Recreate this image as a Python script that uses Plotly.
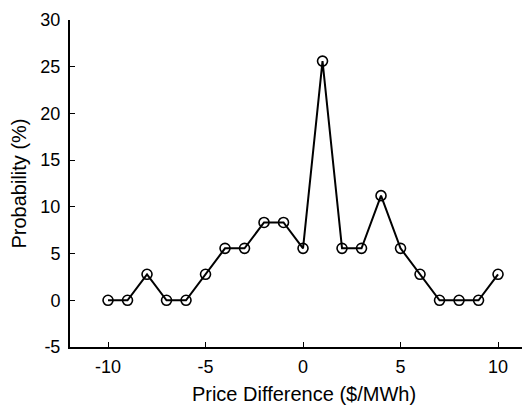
import plotly.graph_objects as go

price_diff = [-10, -9, -8, -7, -6, -5, -4, -3, -2, -1, 0, 1, 2, 3, 4, 5, 6, 7, 8, 9, 10]
probability = [0, 0, 2.78, 0, 0, 2.78, 5.56, 5.56, 8.33, 8.33, 5.56, 25.6, 5.56, 5.56, 11.2, 5.56, 2.78, 0, 0, 0, 2.78]
x_ticks = [-10, -5, 0, 5, 10]
x_tick_labels = ["-10", "-5", "0", "5", "10"]
y_ticks = [-5, 0, 5, 10, 15, 20, 25, 30]
y_tick_labels = ["-5", "0", "5", "10", "15", "20", "25", "30"]

fig = go.Figure()
fig.add_trace(go.Scatter(
    x=price_diff, y=probability, mode="lines+markers",
    line=dict(color="black", width=2),
    marker=dict(symbol="circle-open", size=10, color="black", line=dict(width=1.6, color="black")),
    showlegend=False,
))

tick_font = dict(family="Liberation Sans, Arial, sans-serif", size=18, color="black")
title_font = dict(family="Liberation Sans, Arial, sans-serif", size=20, color="black")
fig.update_layout(
    width=530, height=408,
    margin=dict(l=62, r=0, t=12, b=69),
    paper_bgcolor="white", plot_bgcolor="white",
    font=tick_font,
    xaxis=dict(
        range=[-11.95, 12.05], tickvals=x_ticks, ticktext=x_tick_labels, ticks="inside", ticklen=5,
        tickcolor="black", showline=True, linecolor="black", linewidth=2,
        showgrid=False, zeroline=False, tickfont=tick_font, automargin=False,
        ticklabelstandoff=2,
        title=dict(text="Price Difference ($/MWh)", font=title_font, standoff=11),
    ),
    yaxis=dict(
        range=[-5, 30], tickvals=y_ticks, ticktext=y_tick_labels, ticks="inside", ticklen=5,
        tickcolor="black", showline=True, linecolor="black", linewidth=2,
        showgrid=False, zeroline=False, tickfont=tick_font, automargin=False,
        ticklabelstandoff=4,
        title=dict(text="Probability (%)", font=title_font, standoff=12),
    ),
)
fig.write_html("out.html")
